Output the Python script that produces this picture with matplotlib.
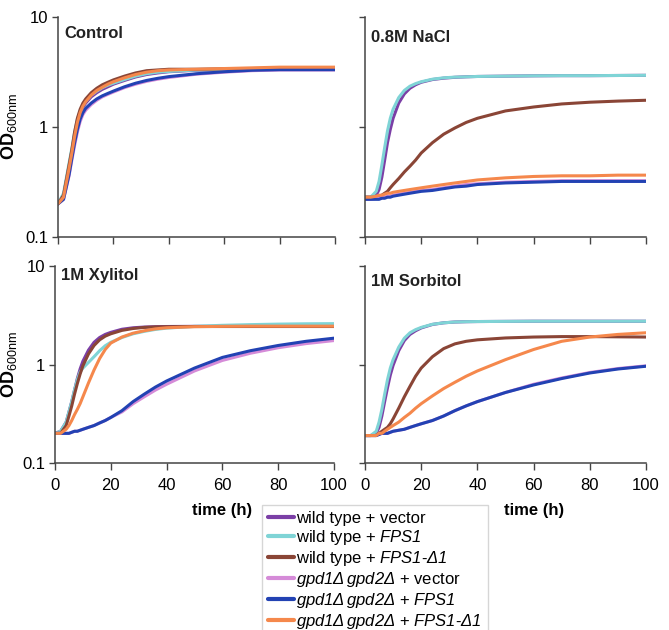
import numpy as np
import matplotlib
matplotlib.use('Agg')
import matplotlib.pyplot as plt

plt.rcParams['font.family'] = ['Liberation Sans', 'DejaVu Sans']
plt.rcParams['mathtext.fontset'] = 'custom'
plt.rcParams['mathtext.rm'] = 'Liberation Sans'
plt.rcParams['mathtext.it'] = 'Liberation Sans:italic'
plt.rcParams['mathtext.sf'] = 'Liberation Sans:italic'  # keeps digits italic too
plt.rcParams['mathtext.bf'] = 'Liberation Sans:bold'

# time points (h)
t = [0, 2, 4, 5, 6, 7, 8, 9, 10, 12, 14, 16, 18, 20, 24, 28, 32, 36, 40, 50, 60, 70, 80, 90, 100]

labels = [r'wild type + vector',
          r'wild type + $\mathsf{FPS1}$',
          r'wild type + $\mathsf{FPS1\text{-}Δ1}$',
          r'$\mathsf{gpd1Δ\,gpd2Δ}$ + vector',
          r'$\mathsf{gpd1Δ\,gpd2Δ}$ + $\mathsf{FPS1}$',
          r'$\mathsf{gpd1Δ\,gpd2Δ}$ + $\mathsf{FPS1\text{-}Δ1}$']
colors = ['#7b3fa6', '#7fd4d6', '#8a4536', '#d58bd8', '#2242b3', '#f5884c']

# OD600 readings per condition, same order as labels
control = [
    [0.2, 0.24, 0.44, 0.6, 0.85, 1.12, 1.35, 1.52, 1.65, 1.88, 2.05, 2.2, 2.32, 2.45, 2.65, 2.85, 3.0, 3.1, 3.18, 3.28, 3.3, 3.32, 3.33, 3.33, 3.33],
    [0.2, 0.25, 0.47, 0.64, 0.9, 1.18, 1.4, 1.58, 1.72, 1.95, 2.12, 2.28, 2.4, 2.5, 2.7, 2.9, 3.05, 3.15, 3.2, 3.3, 3.32, 3.35, 3.35, 3.35, 3.35],
    [0.2, 0.24, 0.45, 0.62, 0.9, 1.2, 1.45, 1.65, 1.8, 2.05, 2.25, 2.42, 2.55, 2.68, 2.9, 3.1, 3.25, 3.3, 3.35, 3.35, 3.38, 3.4, 3.42, 3.45, 3.45],
    [0.2, 0.22, 0.36, 0.5, 0.68, 0.9, 1.12, 1.3, 1.42, 1.6, 1.75, 1.88, 1.98, 2.08, 2.28, 2.45, 2.6, 2.72, 2.82, 3.02, 3.15, 3.25, 3.3, 3.3, 3.3],
    [0.2, 0.22, 0.37, 0.52, 0.72, 0.95, 1.18, 1.35, 1.48, 1.65, 1.8, 1.92, 2.02, 2.12, 2.32, 2.5, 2.65, 2.77, 2.87, 3.05, 3.18, 3.28, 3.32, 3.32, 3.32],
    [0.2, 0.23, 0.42, 0.58, 0.82, 1.1, 1.35, 1.55, 1.7, 1.95, 2.15, 2.3, 2.45, 2.58, 2.8, 3.0, 3.15, 3.25, 3.3, 3.35, 3.4, 3.45, 3.5, 3.5, 3.5],
]
nacl = [
    [0.23, 0.23, 0.24, 0.27, 0.35, 0.5, 0.72, 0.95, 1.2, 1.65, 2.0, 2.25, 2.42, 2.55, 2.7, 2.78, 2.83, 2.86, 2.88, 2.9, 2.92, 2.93, 2.93, 2.94, 2.95],
    [0.23, 0.23, 0.26, 0.32, 0.45, 0.65, 0.92, 1.2, 1.45, 1.85, 2.15, 2.35, 2.48, 2.58, 2.72, 2.8, 2.84, 2.86, 2.88, 2.9, 2.92, 2.93, 2.93, 2.94, 2.95],
    [0.23, 0.23, 0.23, 0.23, 0.24, 0.25, 0.26, 0.28, 0.3, 0.34, 0.39, 0.44, 0.5, 0.58, 0.72, 0.86, 0.98, 1.1, 1.2, 1.4, 1.52, 1.62, 1.68, 1.72, 1.75],
    [0.22, 0.22, 0.225, 0.225, 0.23, 0.23, 0.235, 0.235, 0.24, 0.245, 0.25, 0.255, 0.26, 0.265, 0.27, 0.28, 0.29, 0.3, 0.305, 0.315, 0.32, 0.325, 0.325, 0.325, 0.325],
    [0.22, 0.22, 0.22, 0.22, 0.225, 0.225, 0.23, 0.23, 0.235, 0.24, 0.245, 0.25, 0.255, 0.26, 0.265, 0.275, 0.285, 0.29, 0.3, 0.31, 0.315, 0.32, 0.32, 0.32, 0.32],
    [0.23, 0.23, 0.235, 0.24, 0.24, 0.245, 0.25, 0.25, 0.255, 0.26, 0.265, 0.27, 0.275, 0.28, 0.29, 0.3, 0.31, 0.32, 0.33, 0.345, 0.355, 0.36, 0.36, 0.365, 0.365],
]
xylitol = [
    [0.2, 0.21, 0.26, 0.33, 0.42, 0.55, 0.72, 0.9, 1.08, 1.4, 1.68, 1.88, 2.02, 2.12, 2.28, 2.36, 2.4, 2.42, 2.43, 2.44, 2.44, 2.44, 2.44, 2.44, 2.44],
    [0.2, 0.21, 0.26, 0.33, 0.42, 0.55, 0.7, 0.84, 0.92, 1.05, 1.2, 1.38, 1.55, 1.68, 1.88, 2.05, 2.17, 2.27, 2.34, 2.44, 2.5, 2.54, 2.57, 2.59, 2.6],
    [0.2, 0.2, 0.24, 0.3, 0.38, 0.5, 0.64, 0.8, 0.97, 1.28, 1.56, 1.78, 1.94, 2.05, 2.22, 2.32, 2.38, 2.41, 2.42, 2.43, 2.43, 2.43, 2.43, 2.43, 2.43],
    [0.2, 0.2, 0.2, 0.2, 0.205, 0.21, 0.21, 0.215, 0.22, 0.23, 0.24, 0.255, 0.27, 0.29, 0.33, 0.4, 0.47, 0.55, 0.63, 0.86, 1.1, 1.3, 1.48, 1.63, 1.75],
    [0.2, 0.2, 0.2, 0.2, 0.205, 0.21, 0.21, 0.215, 0.22, 0.23, 0.24, 0.255, 0.27, 0.29, 0.34, 0.42, 0.5, 0.59, 0.68, 0.92, 1.18, 1.38, 1.56, 1.72, 1.85],
    [0.2, 0.2, 0.22, 0.24, 0.27, 0.31, 0.35, 0.4, 0.47, 0.65, 0.88, 1.15, 1.42, 1.65, 1.9, 2.08, 2.2, 2.3, 2.36, 2.42, 2.44, 2.45, 2.45, 2.45, 2.45],
]
sorbitol = [
    [0.19, 0.19, 0.2, 0.23, 0.3, 0.42, 0.58, 0.78, 0.98, 1.38, 1.75, 2.02, 2.2, 2.35, 2.55, 2.65, 2.7, 2.72, 2.73, 2.74, 2.75, 2.75, 2.75, 2.75, 2.75],
    [0.19, 0.19, 0.21, 0.26, 0.35, 0.5, 0.7, 0.92, 1.12, 1.5, 1.85, 2.1, 2.26, 2.38, 2.56, 2.65, 2.7, 2.72, 2.73, 2.74, 2.75, 2.75, 2.75, 2.75, 2.75],
    [0.19, 0.19, 0.19, 0.2, 0.21, 0.22, 0.23, 0.25, 0.28, 0.36, 0.47, 0.6, 0.76, 0.92, 1.2, 1.45, 1.62, 1.72, 1.78, 1.86, 1.9, 1.92, 1.92, 1.91, 1.9],
    [0.19, 0.19, 0.19, 0.195, 0.2, 0.2, 0.2, 0.205, 0.21, 0.215, 0.22, 0.23, 0.24, 0.25, 0.27, 0.3, 0.34, 0.38, 0.42, 0.52, 0.63, 0.73, 0.83, 0.91, 0.97],
    [0.19, 0.19, 0.19, 0.195, 0.2, 0.2, 0.2, 0.205, 0.21, 0.215, 0.22, 0.23, 0.24, 0.25, 0.27, 0.3, 0.34, 0.38, 0.42, 0.52, 0.62, 0.72, 0.82, 0.9, 0.96],
    [0.19, 0.19, 0.19, 0.2, 0.2, 0.21, 0.22, 0.23, 0.24, 0.26, 0.29, 0.32, 0.36, 0.4, 0.48, 0.57, 0.66, 0.76, 0.86, 1.12, 1.42, 1.72, 1.9, 2.02, 2.1],
]

W, H = 669, 630
fig = plt.figure(figsize=(W / 100, H / 100), dpi=100)

def px_axes(x0, x1, y0, y1):
    return fig.add_axes([x0 / W, 1 - y1 / H, (x1 - x0) / W, (y1 - y0) / H])

panels = [
    (control, 'Control', px_axes(58, 335, 17, 237), 0.96),
    (nacl, '0.8M NaCl', px_axes(365, 646, 17, 237), 0.94),
    (xylitol, '1M Xylitol', px_axes(55, 334, 266, 463), 0.99),
    (sorbitol, '1M Sorbitol', px_axes(365, 646, 266, 463), 0.96),
]

for i, (data, title, ax, ty) in enumerate(panels):
    for vals, c, lab in zip(data, colors, labels):
        ax.plot(t, vals, color=c, lw=2.2, label=lab, solid_capstyle='round')
    ax.set_yscale('log')
    ax.set_ylim(0.1, 10)
    ax.set_xlim(0, 100)
    ax.set_xticks([0, 20, 40, 60, 80, 100])
    ax.set_yticks([0.1, 1, 10])
    ax.set_yticklabels(['0.1', '1', '10'])
    ax.yaxis.set_minor_locator(matplotlib.ticker.NullLocator())
    for s in ['top', 'right']:
        ax.spines[s].set_visible(False)
    for s in ['left', 'bottom']:
        ax.spines[s].set_color('#444444')
        ax.spines[s].set_linewidth(1.1)
    ax.tick_params(axis='x', length=5, width=1, color='#444444', pad=6, labelsize=12)
    ax.tick_params(axis='y', length=4, width=1, color='#444444', pad=3, labelsize=12)
    if i < 2:
        ax.tick_params(axis='x', labelbottom=False)
    if i % 2 == 1:
        ax.tick_params(axis='y', labelleft=False)
    else:
        ax.set_ylabel(r'$\mathbf{OD}_{\mathrm{600nm}}$', fontsize=13)
        x0 = 58 if i == 0 else 55
        ax.yaxis.set_label_coords((19 - x0) / (335 - x0), 0.5)
    ax.text(0.022, ty, title, transform=ax.transAxes, fontsize=12,
            fontweight='bold', va='top', ha='left', color='#222222')

fig.text(222 / W, 1 - 511 / H, 'time (h)', fontsize=12, fontweight='bold',
         ha='center', va='center')
fig.text(534 / W, 1 - 511 / H, 'time (h)', fontsize=12, fontweight='bold',
         ha='center', va='center')

handles, labs = panels[0][2].get_legend_handles_labels()
leg = fig.legend(handles, labs, loc='upper left', bbox_to_anchor=(262 / W, 1 - 505 / H),
                 fontsize=12, frameon=True, fancybox=False, handlelength=1.55,
                 handletextpad=0.15, labelspacing=0.12, borderpad=0.35,
                 borderaxespad=0)
leg.get_frame().set_edgecolor('#cccccc')
leg.get_frame().set_linewidth(1)
for ln in leg.get_lines():
    ln.set_linewidth(3)

fig.savefig('out.png', dpi=100)
